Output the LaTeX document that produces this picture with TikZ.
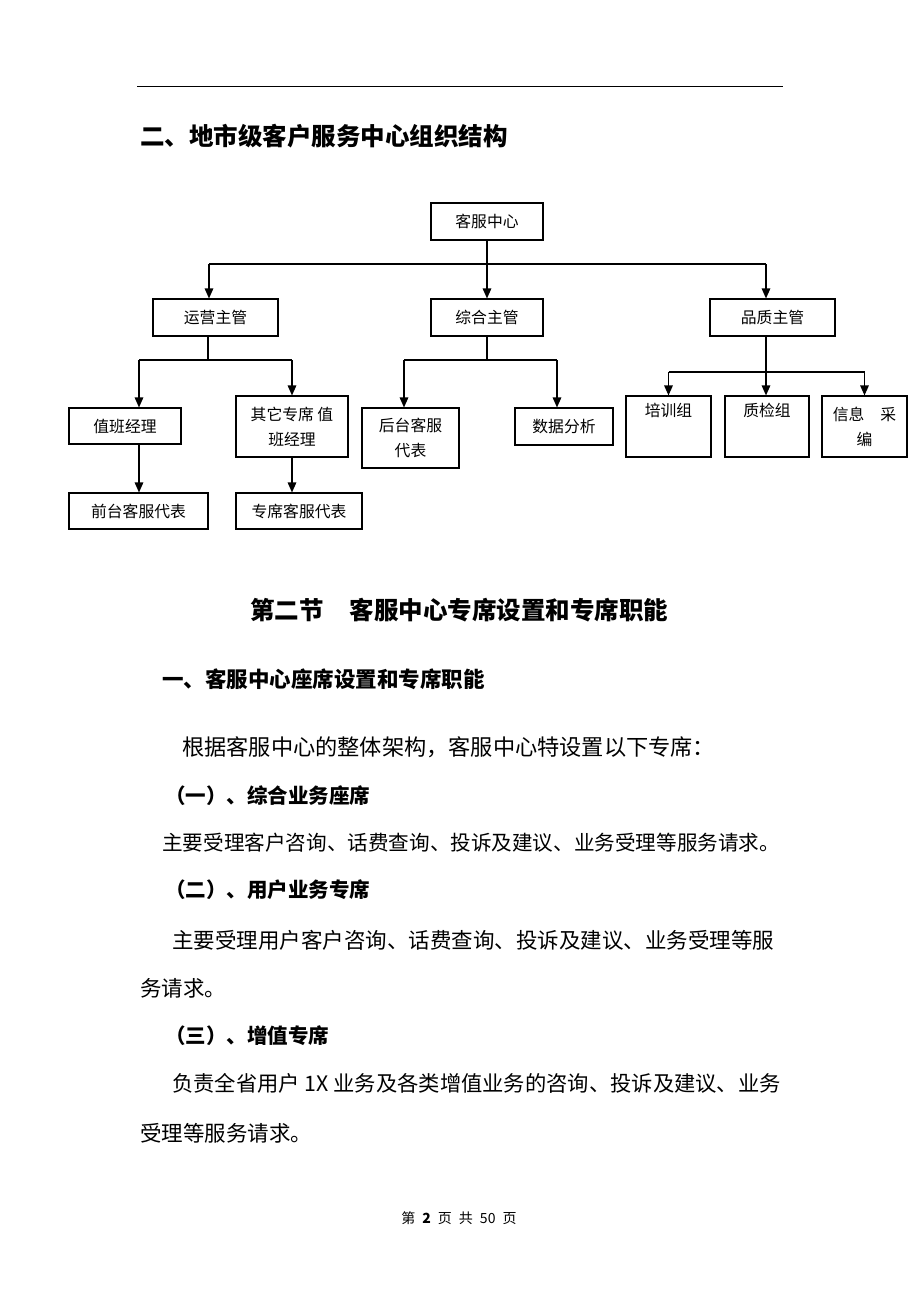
\documentclass[tikz,border=0pt]{standalone}
\usepackage{fontspec}
\setmainfont{Noto Sans CJK SC}
\usetikzlibrary{arrows.meta,calc}
\begin{document}
\begin{tikzpicture}[x=1pt,y=-1pt,
  box/.style={draw=black,line width=1.1pt,inner sep=0pt,align=center,font=\fontsize{15.8}{25}\selectfont},
  conn/.style={line width=1.4pt},
  arr/.style={line width=1.4pt,-{Triangle[length=10pt,width=8.5pt]}},
  txt/.style={anchor=west,inner sep=0pt},
  ttl/.style={txt,font=\bfseries\fontsize{24.5}{26}\selectfont},
  hd/.style={txt,font=\bfseries\fontsize{20.5}{22}\selectfont},
  bd/.style={txt,font=\fontsize{21.5}{23}\selectfont}
]
\useasboundingbox[fill=white] (0,0) rectangle (920,1302);

% top rule
\coordinate (r1) at (137,86);
\coordinate (r2) at (783,86);
\draw[line width=1pt] (r1) -- (r2);

\node[ttl] (title) at (140,136) {二、地市级客户服务中心组织结构};

% boxes
\node[box,minimum width=112pt,minimum height=37pt] (kf) at (487,221.5) {客服中心};
\node[box,minimum width=125pt,minimum height=37pt] (yy) at (215.5,317.5) {运营主管};
\node[box,minimum width=112pt,minimum height=37pt] (zh) at (487,317.5) {综合主管};
\node[box,minimum width=125pt,minimum height=37pt] (pz) at (772.5,317.5) {品质主管};
\node[box,minimum width=112pt,minimum height=36pt] (zb) at (125,426) {值班经理};
\node[box,minimum width=112pt,minimum height=61pt] (qt) at (292,426.5) {其它专席 值\\班经理};
\node[box,minimum width=139pt,minimum height=36pt] (qtr) at (138.5,511) {前台客服代表};
\node[box,minimum width=126pt,minimum height=36pt] (zx) at (299,511) {专席客服代表};
\node[box,minimum width=97pt,minimum height=60pt] (ht) at (410.5,438) {后台客服\\代表};
\node[box,minimum width=98pt,minimum height=37pt] (sj) at (564,426.5) {数据分析};
\node[box,minimum width=85pt,minimum height=61pt] (px) at (668.5,426.5) {培训组\\\strut};
\node[box,minimum width=84pt,minimum height=61pt] (zj) at (767,426.5) {质检组\\\strut};
\node[box,minimum width=85pt,minimum height=61pt] (xx) at (864.5,426.5) {信息\hspace{16pt}采\\编};

% connectors level 1
\coordinate (h1) at (0,264);
\coordinate (yyin) at ([xshift=-6.5pt]yy.north);
\coordinate (pzin) at ([xshift=-6.5pt]pz.north);
\draw[arr] (kf.south) -- (zh.north);
\draw[conn] (yyin |- h1) -- (pzin |- h1);
\draw[arr] (yyin |- h1) -- (yyin);
\draw[arr] (pzin |- h1) -- (pzin);

% 运营主管 subtree
\coordinate (h2) at (0,360);
\coordinate (yyout) at ([xshift=-7.5pt]yy.south);
\coordinate (zbin) at ([xshift=14pt]zb.north);
\coordinate (zbout) at ([xshift=14pt]zb.south);
\draw[conn] (yyout) -- (yyout |- h2);
\draw[conn] (zbin |- h2) -- (qt.north |- h2);
\draw[arr] (zbin |- h2) -- (zbin);
\draw[arr] (qt.north |- h2) -- (qt.north);
\draw[arr] (zbout) -- (zbout |- qtr.north);
\draw[arr] (qt.south) -- (qt.south |- zx.north);

% 综合主管 subtree
\coordinate (htin) at ([xshift=-6.5pt]ht.north);
\coordinate (sjin) at ([xshift=-7pt]sj.north);
\draw[conn] (zh.south) -- (zh.south |- h2);
\draw[conn] (htin |- h2) -- (sjin |- h2);
\draw[arr] (htin |- h2) -- (htin);
\draw[arr] (sjin |- h2) -- (sjin);

% 品质主管 subtree
\coordinate (h3) at (0,372);
\coordinate (pzout) at ([xshift=-6.5pt]pz.south);
\draw[arr] (pzout) -- (pzout |- zj.north);
\draw[conn] (px.north |- h3) -- (xx.north |- h3);
\draw[arr] (px.north |- h3) -- (px.north);
\draw[arr] (xx.north |- h3) -- (xx.north);

% text
\node[ttl] (sec) at (250,610) {第二节\hspace{26pt}客服中心专席设置和专席职能};
\node[txt,font=\bfseries\fontsize{21.5}{23}\selectfont] (h1t) at (162,679) {一、客服中心座席设置和专席职能};
\node[txt,font=\fontsize{22.2}{24}\selectfont] (p0) at (182,747) {根据客服中心的整体架构，客服中心特设置以下专席：};
\node[hd] (s1) at (165,796) {（一）、综合业务座席};
\node[txt,font=\fontsize{20.6}{22}\selectfont] (p1) at (162,843) {主要受理客户咨询、话费查询、投诉及建议、业务受理等服务请求。};
\node[hd] (s2) at (165,890) {（二）、用户业务专席};
\node[bd] (p2a) at (172,940) {主要受理用户客户咨询、话费查询、投诉及建议、业务受理等服};
\node[bd] (p2b) at (140,988) {务请求。};
\node[hd] (s3) at (165,1036) {（三）、增值专席};
\node[txt,font=\fontsize{21.3}{23}\selectfont] (p3a) at (172,1083) {负责全省用户 1X 业务及各类增值业务的咨询、投诉及建议、业务};
\node[bd] (p3b) at (140,1133) {受理等服务请求。};

\node[inner sep=0pt,font=\fontsize{14}{16}\selectfont] (foot) at (459,1218) {第\hspace{7pt}\textbf{2}\hspace{7pt}页\hspace{7pt}共\hspace{7pt}50\hspace{7pt}页};
\end{tikzpicture}
\end{document}
